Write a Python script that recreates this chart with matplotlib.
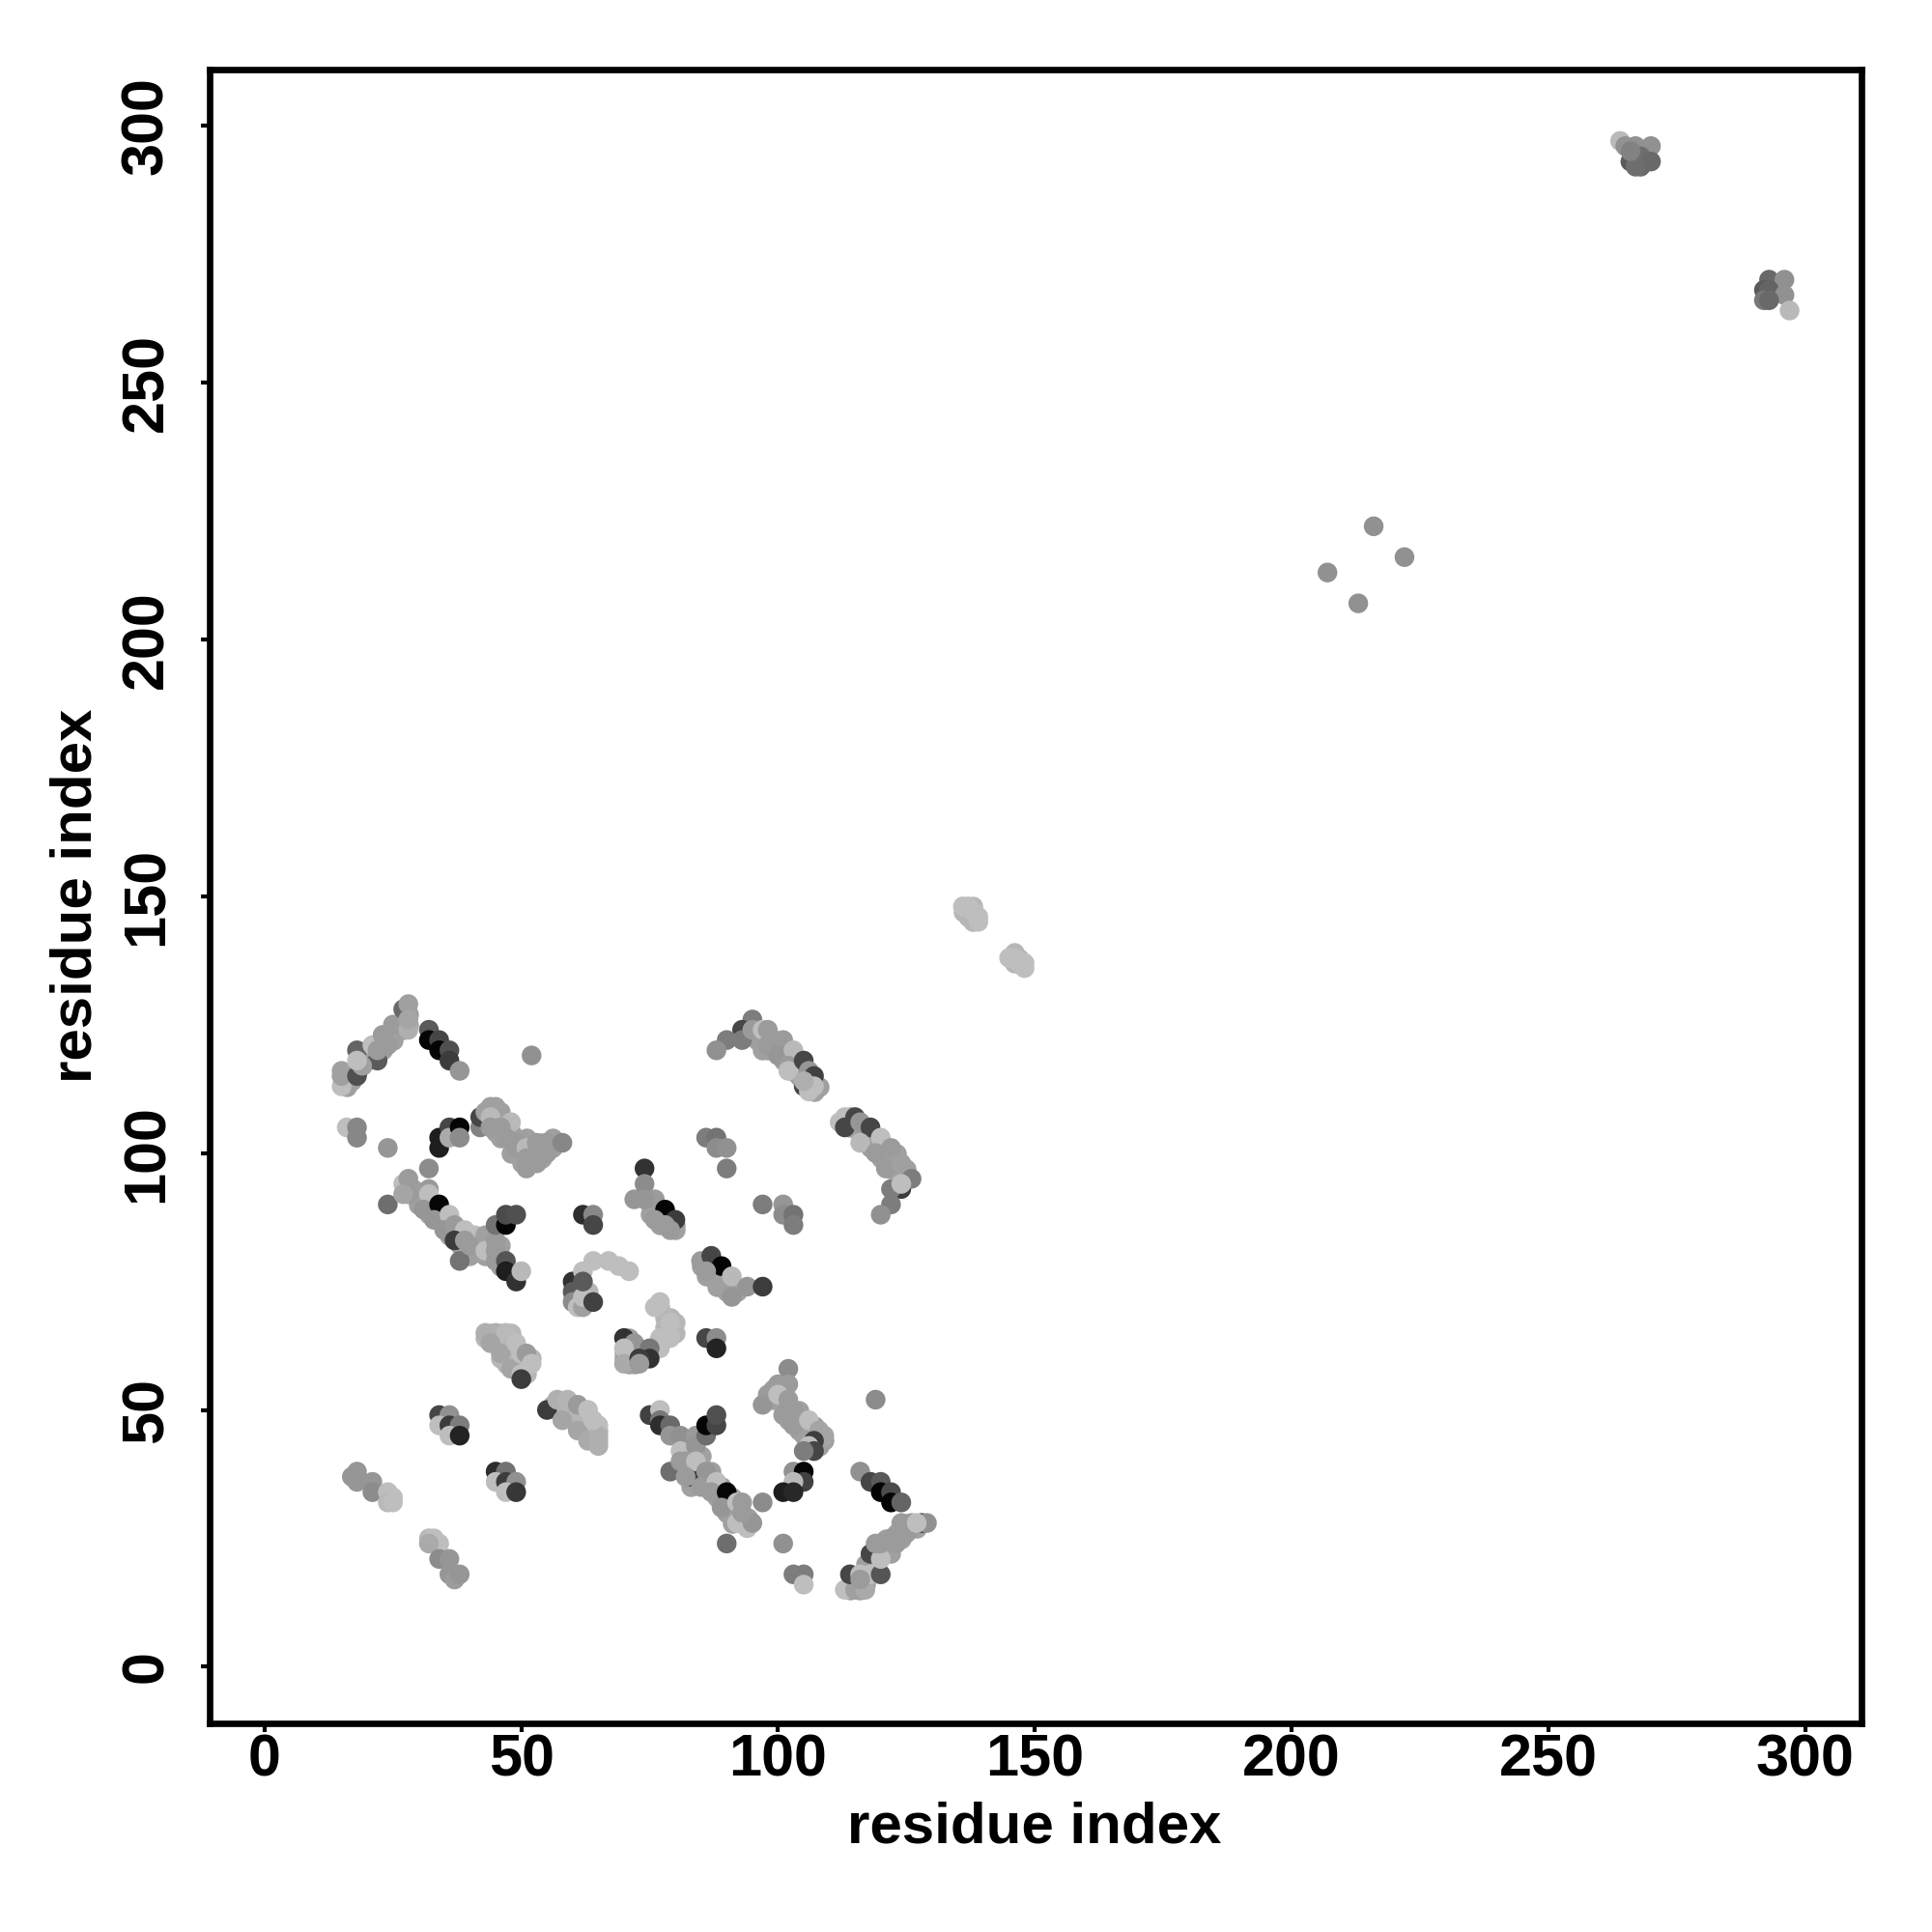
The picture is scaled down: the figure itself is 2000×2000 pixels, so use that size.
#!/usr/bin/env python3

import numpy as np
from matplotlib import pyplot as plt

plt.rcParams['font.family'] = ['Liberation Sans', 'DejaVu Sans']
plt.rcParams['font.weight'] = 'bold'

tick_values = [0, 50, 100, 150, 200, 250, 300]
axis_label = 'residue index'

# contacts hidden inside the thick bands, these go underneath the rest
pale_x = [
    43,44,46,48,45,46,47,47,48,48,46,49,50,47,49,51,51,49,48,50,52,
    56,57,58,58,59,59,60,60,60,61,61,62,62,62,62,63,63,63,63,64,64,64,64,65,65,
    78,78,79,78,77,79,80,80,
    60,61,61,61,62,63,63,62,60,
    136,137,138,138,146,147,146,
]
pale_y = [
    64,65,65,65,63,63,63,62,63,62,60,60,59,59,58,59,57,59,60,60,60,
    51,50,50,51,50,49,50,49,48,48,47,49,48,47,46,48,47,46,45,47,46,45,44,46,44,
    68,66,66,65,70,68,67,65,
    72,71,72,73,71,71,73,73,74,
    147,146,145,148,137,138,139,
]
mid_x = [
    16,16,17,17,18,19,20,20,20,21,22,22,23,23,24,24,25,25,26,26,27,27,27,28,28,
    96,96,97,97,98,98,99,99,100,100,101,101,102,103,103,104,104,105,105,106,106,107,108,
    114,114,115,116,116,117,117,117,118,118,119,120,120,120,121,121,122,122,122,123,123,124,124,125,125,
    29,30,30,31,32,32,33,34,34,35,36,36,37,38,38,39,40,40,41,41,42,42,43,44,44,46,46,46,
    45,45,46,46,47,48,48,48,49,50,50,50,51,52,52,53,54,54,54,56,56,52,
    81,82,82,83,83,83,84,84,85,85,85,86,86,87,87,88,88,89,89,90,90,91,91,91,92,93,94,94,84,83,
    99,99,100,101,101,102,102,103,104,104,104,105,105,106,106,107,107,108,108,109,
    114,114,115,115,116,116,117,117,117,118,118,118,119,119,120,121,121,121,122,122,123,124,124,125,125,126,127,
    71,71,71,72,72,73,74,74,71,70,70,
    85,86,87,87,88,88,89,89,90,90,91,92,91,
    75,75,76,77,77,77,78,79,79,80,80,
]
mid_y = [
    113,115,114,116,116,117,118,119,120,119,119,121,120,121,122,123,122,123,124,125,124,125,126,125,127,
    122,124,122,120,120,122,120,122,120,122,118,120,119,116,118,116,115,115,116,114,113,112,113,
    105,107,105,104,105,103,102,104,101,103,102,100,99,101,100,99,99,97,98,100,98,96,97,96,97,
    93,92,90,91,90,88,89,88,87,87,86,84,84,84,82,84,84,80,82,81,83,81,80,82,81,82,80,78,
    106,104,103,106,105,104,102,100,103,102,100,98,103,100,98,100,102,100,99,101,103,102,
    44,44,43,42,44,41,38,39,38,41,37,36,35,36,38,34,33,33,35,32,30,33,31,28,30,28,28,29,36,35,
    52,54,52,52,51,50,48,49,50,48,46,47,45,46,45,46,47,44,43,44,
    15,16,16,17,16,15,16,19,20,19,20,21,21,22,22,22,23,25,22,23,26,25,26,27,28,27,27,
    60,59,62,60,59,62,60,61,64,61,60,
    78,76,78,76,75,74,76,74,73,74,74,73,73,
    90,88,89,87,89,86,87,87,86,85,86,
]

# one row per cluster of contacts, draw order matters because they overlap
res_x = [
    15,15,15,18,18,22,19,18,21,22,24,23,25,27,28,28,28,
    32,32,34,34,36,36,38,
    52,16,18,18,24,34,34,36,36,38,38,32,24,
    42,42,43,44,45,46,44,44,48,46,47,49,49,51,51,53,53,55,55,58,51,
    27,28,28,27,32,32,31,34,33,36,35,37,39,37,38,41,39,40,43,43,45,45,47,47,49,45,45,47,47,49,50,
    62,64,64,
    60,60,60,61,62,62,64,62,62,64,67,69,71,
    95,93,93,90,88,95,97,98,98,101,100,103,102,102,105,106,107,105,106,107,105,
    113,112,113,115,116,118,120,116,119,122,121,124,124,126,122,122,120,124,
    86,88,88,90,90,97,101,101,103,103,
    72,74,74,76,78,80,74,76,78,79,
    85,87,89,91,86,94,97,91,
    43,45,47,44,46,48,49,50,51,52,50,50,
    55,57,59,58,61,63,61,65,63,65,65,64,
    34,36,34,36,38,36,38,
    45,47,45,47,49,47,49,
    17,18,18,21,21,24,25,24,25,
    32,33,34,32,34,36,36,37,38,
    70,72,70,70,73,
    77,76,79,79,77,77,75,75,73,73,
    86,88,88,
    102,100,102,98,97,100,102,103,101,103,106,119,108,109,107,106,107,105,
    103,105,105,103,101,103,
    97,90,101,103,105,105,
    116,118,120,120,122,122,124,
    113,115,117,114,116,118,120,118,120,120,123,122,125,124,126,128,129,127,119,116,
    75,77,77,77,79,79,81,81,84,84,86,86,88,88,79,81,82,83,84,82,86,85,88,87,90,89,92,93,92,94,95,93,
    264,265,267,270,266,268,268,270,267,266,
    293,296,292,293,296,292,293,297,
    207,213,216,222,
    136,137,138,139,139,145,146,147,148,148,
]
res_y = [
    113,115,116,115,120,118,117,118,121,120,121,123,125,128,129,124,126,
    124,122,122,120,120,118,116,
    119,105,105,103,101,103,101,105,103,105,103,97,90,
    105,107,108,109,109,108,107,105,106,105,103,102,101,97,101,102,98,102,100,102,99,
    94,95,92,92,93,92,89,90,87,88,85,86,85,83,79,84,83,82,84,81,83,86,86,88,88,81,79,79,77,75,77,
    88,88,86,
    75,73,71,70,70,72,71,77,75,79,79,78,77,
    126,124,122,122,120,124,124,124,121,122,119,120,117,116,118,116,115,113,112,113,114,
    107,106,105,107,106,105,103,102,100,101,97,98,93,95,93,90,88,94,
    103,103,101,101,97,90,90,88,88,86,
    91,97,94,91,89,87,91,87,86,85,
    79,80,78,76,77,74,74,72,
    65,65,65,63,61,58,63,61,61,59,57,56,
    50,52,52,48,51,50,46,47,44,43,45,48,
    49,49,47,47,47,45,45,
    38,38,36,36,36,34,34,
    37,38,36,36,34,34,33,32,32,
    25,25,24,24,21,21,18,17,18,
    64,63,62,59,60,
    71,70,67,64,64,62,62,60,60,59,
    64,64,62,
    58,55,55,53,51,53,52,50,49,47,48,52,46,45,44,43,42,42,
    38,38,36,36,34,34,
    32,24,24,18,18,16,
    38,36,36,34,34,32,32,
    15,15,15,18,18,18,18,22,21,24,24,25,26,28,28,28,28,28,24,17,
    49,50,48,47,47,45,45,42,45,43,45,47,47,49,38,40,40,37,40,37,38,35,36,34,34,31,32,32,28,27,28,30,
    297,296,296,296,293,292,294,293,292,295,
    270,270,268,268,267,266,266,264,
    213,207,222,216,
    148,148,147,146,145,138,138,137,136,137,
]
# grey level 0-255 of each point
shade = [
    190,160,160,80,100,90,160,190,190,155,155,155,155,105,160,175,165,
    90,5,70,5,80,60,150,
    145,190,135,135,150,30,30,70,170,5,140,140,110,
    130,70,160,160,160,160,185,155,185,155,155,155,155,155,185,155,155,155,155,135,155,
    190,155,155,165,155,190,150,5,150,190,150,155,190,60,115,190,155,155,160,190,155,115,5,75,80,155,155,85,30,50,185,
    45,135,70,
    50,90,140,190,160,190,65,190,90,190,190,190,190,
    125,70,125,125,145,155,190,155,155,155,150,185,155,190,70,150,65,70,190,190,175,
    190,190,70,70,150,70,190,185,155,155,155,160,60,125,125,125,145,190,
    125,115,140,145,125,125,150,140,115,125,
    150,50,140,155,5,60,150,155,155,155,
    155,70,5,185,155,150,60,150,
    175,175,185,165,165,165,190,190,155,190,190,60,
    60,175,180,165,155,190,165,190,170,175,175,190,
    70,145,190,60,125,190,35,
    45,115,190,60,145,190,55,
    150,150,150,150,140,190,190,185,190,
    185,190,190,170,140,150,150,155,150,
    50,150,190,170,50,
    190,190,190,190,190,190,120,50,60,155,
    70,140,35,
    140,155,155,155,150,190,155,155,155,155,190,140,165,165,60,190,70,125,
    145,5,65,185,30,40,
    140,110,145,125,125,190,
    145,70,90,5,75,5,100,
    190,160,170,70,190,190,85,70,190,155,155,155,155,155,155,60,145,190,155,155,
    65,190,120,45,105,150,145,190,155,150,110,5,70,80,110,155,155,60,190,155,150,155,190,155,5,150,190,155,190,190,150,155,
    185,145,145,145,90,105,110,105,110,130,
    105,145,90,100,145,120,105,185,
    145,145,145,145,
    190,190,190,190,190,190,190,190,190,190,
]
pale_grey = 182
mid_grey = 160

fig = plt.figure(figsize=(10,10),dpi=200)
ax = fig.add_axes([217/2000,1-1784/2000,(1927-217)/2000,(1784-72)/2000])
for xs,ys,g in [(pale_x,pale_y,pale_grey),(mid_x,mid_y,mid_grey)]:
    ax.scatter(xs,ys,s=54,color=str(g/255),linewidths=0,zorder=2)
grey = np.array(shade)/255
ax.scatter(res_x,res_y,s=54,c=np.stack([grey,grey,grey],axis=1),linewidths=0,zorder=3)
ax.set_xlim(-10.7,311)
ax.set_ylim(-11,310.9)
ax.set_xticks(tick_values)
ax.set_yticks(tick_values)
ax.tick_params(axis='x',length=3.2,width=1.5,labelsize=22,pad=0.5)
ax.tick_params(axis='y',length=3.4,width=1.5,labelsize=22,pad=9.5)
for lab in ax.get_yticklabels():
    lab.set_rotation(90)
    lab.set_va('center')
for s in ax.spines.values():
    s.set_linewidth(2.4)
fig.text(1071/2000,1-1892/2000,axis_label,ha='center',va='center',fontsize=21.6,fontweight='bold')
fig.text(79/2000,1-927/2000,axis_label,ha='center',va='center',rotation=90,fontsize=21.6,fontweight='bold')
fig.savefig('out.png',dpi=200)
